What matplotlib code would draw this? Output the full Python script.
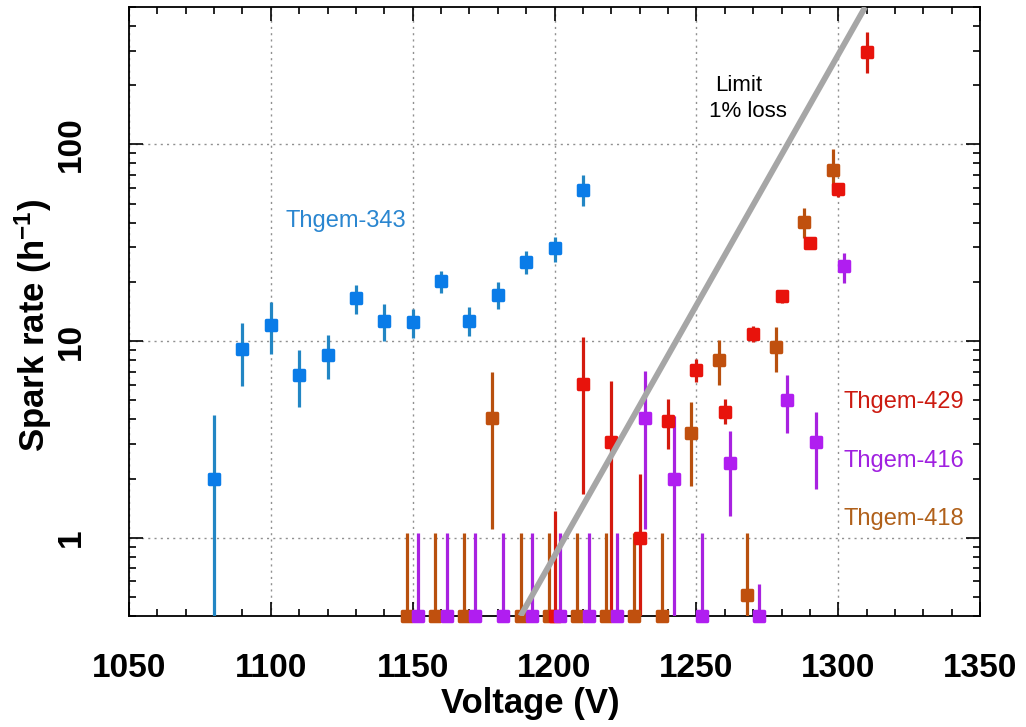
import numpy as np
import matplotlib
matplotlib.use("Agg")
import matplotlib.pyplot as plt
from matplotlib.markers import MarkerStyle
from matplotlib.ticker import FixedLocator, FixedFormatter, LogLocator, MultipleLocator, NullFormatter

plt.rcParams['font.family'] = ['Liberation Sans', 'DejaVu Sans']
plt.rcParams['mathtext.fontset'] = 'custom'
plt.rcParams['mathtext.rm'] = 'Liberation Sans:bold'
plt.rcParams['mathtext.default'] = 'rm'

# spark rates (0 = no spark, drawn on the floor)
v343 = [1080, 1090, 1100, 1110, 1120, 1130, 1140, 1150, 1160, 1170, 1180, 1190, 1200, 1210]
r343 = [2.0, 9.1, 12.1, 6.7, 8.5, 16.5, 12.6, 12.5, 20.2, 12.6, 17.1, 25.2, 29.6, 58.4]
lo343 = [0, 5.9, 8.6, 4.6, 6.4, 13.7, 10.0, 10.4, 17.5, 10.6, 14.5, 21.9, 25.2, 48.4]
hi343 = [4.2, 12.4, 15.8, 9.0, 10.8, 19.2, 15.4, 14.5, 22.7, 14.9, 19.9, 28.6, 33.8, 69.6]

v418 = [1148, 1158, 1168, 1178, 1188, 1198, 1208, 1218, 1228, 1238, 1248, 1258, 1268, 1278, 1288, 1298]
r418 = [0, 0, 0, 4.07, 0, 0, 0, 0, 0, 0, 3.41, 8.0, 0.51, 9.3, 40.2, 73.8]
lo418 = [0, 0, 0, 1.11, 0, 0, 0, 0, 0, 0, 1.84, 6.0, 0, 7.0, 33.3, 57.0]
hi418 = [1.06, 1.06, 1.06, 7.0, 1.06, 1.06, 1.06, 1.06, 1.06, 1.06, 4.9, 10.1, 1.06, 11.8, 47.3, 94.4]

v429 = [1200, 1210, 1220, 1230, 1240, 1250, 1260, 1270, 1280, 1290, 1300, 1310]
r429 = [0, 6.05, 3.07, 1.0, 3.93, 7.1, 4.36, 10.9, 16.9, 31.4, 59.1, 296]
lo429 = [0, 1.67, 0, 0, 2.83, 6.2, 3.8, 9.9, 15.6, 29.3, 53.8, 232]
hi429 = [1.37, 10.5, 6.27, 2.1, 5.1, 8.1, 5.1, 12.0, 18.1, 34.0, 64.0, 375]

v416 = [1152, 1162, 1172, 1182, 1192, 1202, 1212, 1222, 1232, 1242, 1252, 1262, 1272, 1282, 1292, 1302]
r416 = [0, 0, 0, 0, 0, 0, 0, 0, 4.07, 2.0, 0, 2.4, 0, 5.0, 3.07, 24.0]
lo416 = [0, 0, 0, 0, 0, 0, 0, 0, 1.11, 0, 0, 1.29, 0, 3.41, 1.77, 19.7]
hi416 = [1.06, 1.06, 1.06, 1.06, 1.06, 1.06, 1.06, 1.06, 7.04, 4.16, 1.06, 3.49, 0.58, 6.7, 4.36, 28.0]

limit_v = [1188, 1309.5]
limit_r = [0.4, 500]

xticks = [1050, 1100, 1150, 1200, 1250, 1300, 1350]
xtick_labels = ["1050", "1100", "1150", "1200", "1250", "1300", "1350"]
yticks = [1, 10, 100]
ytick_labels = ["1", "10", "100"]

YMIN, YMAX = 0.4, 500

fig = plt.figure(figsize=(10.26, 7.27), dpi=100)
ax = fig.add_axes([0.1257, 0.1527, 0.8296, 0.8377])

series = [
    (v343, r343, lo343, hi343, '#0a7ce8', '#2286c4'),
    (v418, r418, lo418, hi418, '#c0500e', '#b8500e'),
    (v429, r429, lo429, hi429, '#e8130c', '#d41a0e'),
    (v416, r416, lo416, hi416, '#b01ef0', '#a822e0'),
]
mk = MarkerStyle('s', joinstyle='round')
for v, r, lo, hi, mc, ec in series:
    r = np.maximum(np.array(r, float), YMIN)
    lo = np.maximum(np.array(lo, float), YMIN)
    ax.vlines(v, lo, hi, colors=ec, linewidth=2.3, zorder=3)
    ax.plot(v, r, linestyle='none', marker=mk, markersize=6.6, color=mc,
            markeredgecolor=mc, markeredgewidth=2.5, zorder=4, clip_on=False)

ax.plot(limit_v, limit_r, color='#a6a6a6', linewidth=4.2, solid_capstyle='butt', zorder=5)

ax.set_xlim(1050, 1350)
ax.set_yscale('log')
ax.set_ylim(YMIN, YMAX)

ax.xaxis.set_major_locator(FixedLocator(xticks))
ax.xaxis.set_major_formatter(FixedFormatter(xtick_labels))
ax.xaxis.set_minor_locator(MultipleLocator(10))
ax.yaxis.set_major_locator(FixedLocator(yticks))
ax.yaxis.set_major_formatter(FixedFormatter(ytick_labels))
ax.yaxis.set_minor_locator(LogLocator(base=10, subs=np.arange(2, 10)))
ax.yaxis.set_minor_formatter(NullFormatter())

ax.tick_params(which='both', direction='in', top=True, right=True, width=1.2, colors='black')
ax.tick_params(which='major', length=10)
ax.tick_params(which='minor', length=5)
ax.tick_params(axis='x', which='major', pad=27, labelsize=24)
ax.tick_params(axis='y', which='major', pad=30, labelsize=24)
for lab in ax.get_xticklabels():
    lab.set_fontweight('bold')
for lab in ax.get_yticklabels():
    lab.set_fontweight('bold')
    lab.set_rotation(90)
    lab.set_va('center')

for s in ax.spines.values():
    s.set_linewidth(1.3)

ax.grid(True, which='major', linestyle=(0, (1.5, 3)), color='#909090', linewidth=1.0)
ax.set_axisbelow(True)

ax.set_xlabel('Voltage (V)', fontsize=25, fontweight='bold')
ax.xaxis.set_label_coords(0.471, -0.117)
ax.set_ylabel('Spark rate (h$^{-1}$)', fontsize=25, fontweight='bold')
ax.yaxis.set_label_coords(-0.088, 0.478)

ax.text(1105.3, 40.6, 'Thgem-343', color='#2a86d0', fontsize=17, va='center', ha='left')
ax.text(1301.7, 4.9, 'Thgem-429', color='#cc1a10', fontsize=17, va='center', ha='left')
ax.text(1301.7, 2.46, 'Thgem-416', color='#a020e0', fontsize=17, va='center', ha='left')
ax.text(1301.7, 1.25, 'Thgem-418', color='#b0601a', fontsize=17, va='center', ha='left')
ax.text(1256.6, 199, 'Limit', color='black', fontsize=16, va='center', ha='left')
ax.text(1254.4, 147, '1% loss', color='black', fontsize=16, va='center', ha='left')

fig.savefig('out.png', dpi=100)
